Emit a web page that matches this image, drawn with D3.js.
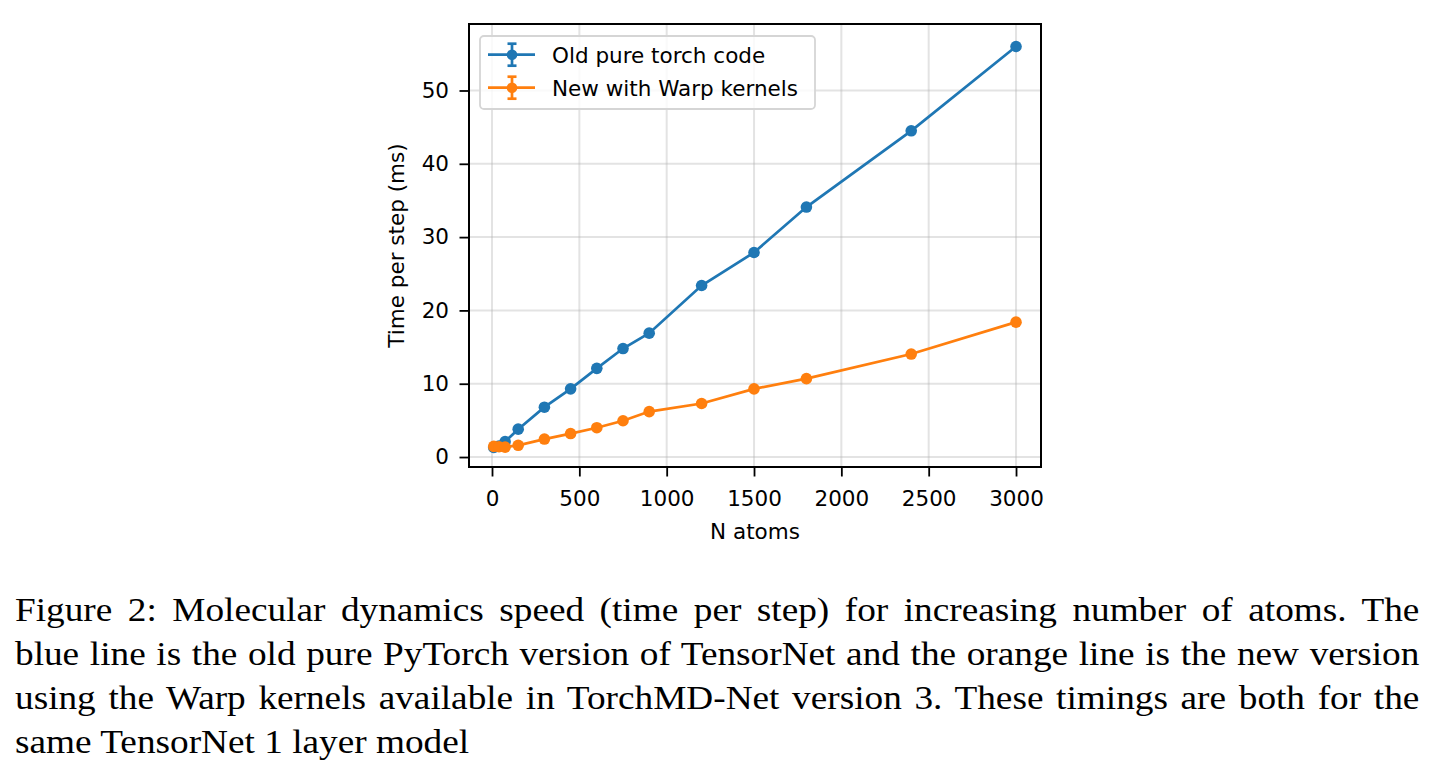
<!DOCTYPE html>
<html>
<head>
<meta charset="utf-8">
<script src="https://cdn.jsdelivr.net/npm/d3@7"></script>
<style>
  html, body { margin: 0; padding: 0; background: #fff; }
  svg { display: block; }
</style>
</head>
<body>
<div id="chart"></div>
<script>
// data
const nAtoms   = [10, 40, 75, 150, 300, 450, 600, 750, 900, 1200, 1500, 1800, 2400, 3000];
const oldTorch = [1.3, 1.5, 2.1, 3.8, 6.8, 9.3, 12.1, 14.8, 16.9, 23.4, 27.9, 34.1, 44.5, 56.0];
const newWarp  = [1.45, 1.4, 1.35, 1.6, 2.45, 3.2, 4.0, 4.95, 6.2, 7.3, 9.3, 10.7, 14.05, 18.4];

const xTicks = [0, 500, 1000, 1500, 2000, 2500, 3000];
const yTicks = [0, 10, 20, 30, 40, 50];

const seriesNames = ["Old pure torch code", "New with Warp kernels"];
const seriesColors = ["#1f77b4", "#ff7f0e"];

const captionLines = [
  "Figure 2: Molecular dynamics speed (time per step) for increasing number of atoms. The",
  "blue line is the old pure PyTorch version of TensorNet and the orange line is the new version",
  "using the Warp kernels available in TorchMD-Net version 3. These timings are both for the",
  "same TensorNet 1 layer model"
];

const W = 1435, H = 776;
const plot = { left: 469, right: 1041, top: 24, bottom: 467 };
const font = "DejaVu Sans, sans-serif";
const fs = 21.5;

const svg = d3.select("#chart").append("svg")
  .attr("width", W).attr("height", H);

svg.append("rect").attr("width", W).attr("height", H).attr("fill", "#fff");

// =========================
// SCALES
// =========================
const x = d3.scaleLinear().domain([-131.7, 3143]).range([plot.left, plot.right]);
const y = d3.scaleLinear().domain([-1.36, 59.07]).range([plot.bottom, plot.top]);

// =========================
// GRID
// =========================
const grid = svg.append("g");
grid.selectAll(".gx").data(xTicks).enter().append("line")
  .attr("x1", d => x(d)).attr("x2", d => x(d))
  .attr("y1", plot.top).attr("y2", plot.bottom)
  .attr("stroke", "#b0b0b0").attr("stroke-opacity", 0.35).attr("stroke-width", 2);
grid.selectAll(".gy").data(yTicks).enter().append("line")
  .attr("x1", plot.left).attr("x2", plot.right)
  .attr("y1", d => y(d)).attr("y2", d => y(d))
  .attr("stroke", "#b0b0b0").attr("stroke-opacity", 0.35).attr("stroke-width", 2);

// =========================
// LINES + MARKERS
// =========================
const line = d3.line().x(d => x(d[0])).y(d => y(d[1]));
[oldTorch, newWarp].forEach((vals, i) => {
  const pts = nAtoms.map((n, j) => [n, vals[j]]);
  svg.append("path").datum(pts)
    .attr("fill", "none")
    .attr("stroke", seriesColors[i])
    .attr("stroke-width", 2.7)
    .attr("d", line);
  svg.selectAll(".dot" + i).data(pts).enter().append("circle")
    .attr("cx", d => x(d[0])).attr("cy", d => y(d[1]))
    .attr("r", 5.8).attr("fill", seriesColors[i]);
});

// =========================
// AXES
// =========================
const xAxis = svg.append("g")
  .attr("transform", `translate(0,${plot.bottom})`)
  .call(d3.axisBottom(x).tickValues(xTicks).tickSize(9.5).tickPadding(14).tickFormat(d3.format("d")));
const yAxis = svg.append("g")
  .attr("transform", `translate(${plot.left},0)`)
  .call(d3.axisLeft(y).tickValues(yTicks).tickSize(9.5).tickPadding(10.5).tickFormat(d3.format("d")));
[xAxis, yAxis].forEach(a => {
  a.select(".domain").remove();
  a.selectAll(".tick line").attr("stroke", "#000").attr("stroke-width", 1.8);
  a.selectAll(".tick text").attr("fill", "#000")
    .style("font-family", font).style("font-size", fs + "px");
});

svg.append("rect")
  .attr("x", plot.left).attr("y", plot.top)
  .attr("width", plot.right - plot.left).attr("height", plot.bottom - plot.top)
  .attr("fill", "none").attr("stroke", "#000").attr("stroke-width", 2);

svg.append("text")
  .attr("x", (plot.left + plot.right) / 2).attr("y", 539)
  .attr("text-anchor", "middle")
  .style("font-family", font).style("font-size", fs + "px")
  .text("N atoms");

svg.append("text")
  .attr("transform", `translate(404,${(plot.top + plot.bottom) / 2}) rotate(-90)`)
  .attr("text-anchor", "middle")
  .style("font-family", font).style("font-size", fs + "px")
  .text("Time per step (ms)");

// =========================
// LEGEND
// =========================
const legend = svg.append("g").attr("transform", "translate(480,36)");
legend.append("rect")
  .attr("width", 335).attr("height", 73).attr("rx", 4)
  .attr("fill", "#fff").attr("fill-opacity", 0.8)
  .attr("stroke", "#d5d5d5").attr("stroke-width", 1.8);

seriesNames.forEach((name, i) => {
  const g = legend.append("g").attr("transform", `translate(0,${18.7 + i * 33})`);
  const c = seriesColors[i];
  g.append("line").attr("x1", 8).attr("x2", 55).attr("y1", 0).attr("y2", 0)
    .attr("stroke", c).attr("stroke-width", 2.7);
  g.append("line").attr("x1", 32).attr("x2", 32).attr("y1", -11).attr("y2", 11)
    .attr("stroke", c).attr("stroke-width", 2.7);
  g.append("line").attr("x1", 27.5).attr("x2", 36.5).attr("y1", -11).attr("y2", -11)
    .attr("stroke", c).attr("stroke-width", 2.7);
  g.append("line").attr("x1", 27.5).attr("x2", 36.5).attr("y1", 11).attr("y2", 11)
    .attr("stroke", c).attr("stroke-width", 2.7);
  g.append("circle").attr("cx", 32).attr("cy", 0).attr("r", 5.3).attr("fill", c);
  g.append("text").attr("x", 72).attr("y", 7.8)
    .style("font-family", font).style("font-size", fs + "px")
    .text(name);
});

// =========================
// CAPTION (condensed serif, justified with word spacing, last line ragged)
// =========================
const capFont = "'Liberation Serif', 'Times New Roman', serif";
const capLeft = 15, capRight = 1420;
const capTexts = captionLines.map(t =>
  svg.append("text")
    .attr("x", 0).attr("y", 0)
    .style("font-family", capFont).style("font-size", "33px")
    .attr("fill", "#000")
    .text(t)
);
// squeeze glyphs so the tightest justified line just fits
const nats = capTexts.map(tx => tx.node().getComputedTextLength());
const sx = Math.min(...nats.slice(0, -1).map(n => (capRight - capLeft) / (n + 20)));
capTexts.forEach((tx, i) => {
  tx.attr("transform", `translate(${capLeft},${621 + i * 44}) scale(${sx},1)`);
  if (i < capTexts.length - 1) {
    const spaces = captionLines[i].split(" ").length - 1;
    const extra = ((capRight - capLeft) / sx - nats[i]) / spaces;
    tx.style("word-spacing", extra + "px");
  }
});
</script>
</body>
</html>
